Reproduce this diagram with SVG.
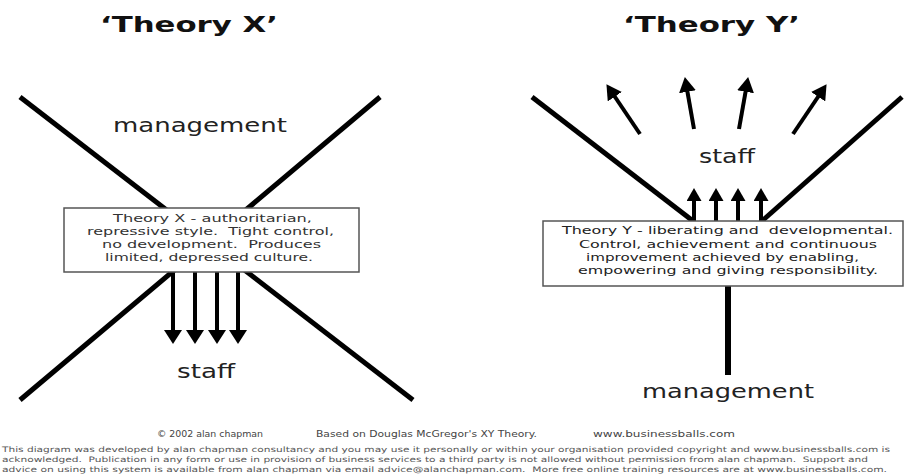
<svg xmlns="http://www.w3.org/2000/svg" width="905" height="474" viewBox="0 0 905 474">
<style>
.title{font-family:"DejaVu Sans",Verdana,sans-serif;font-weight:bold;font-size:22px;fill:#111}
.lbl{font-family:"DejaVu Sans",Verdana,sans-serif;font-size:20px;fill:#222}
.box{fill:#fff;stroke:#555;stroke-width:1.5}
.bt{font-family:"DejaVu Sans",Verdana,sans-serif;font-size:11px;fill:#333;white-space:pre}
.ln{stroke:#000;stroke-width:5;fill:none;stroke-linecap:butt}
.ar{stroke:#000;stroke-width:4;fill:none}
.ft{font-family:"DejaVu Sans",Verdana,sans-serif;font-size:8.5px;fill:#444}
.fs{font-family:"DejaVu Sans",Verdana,sans-serif;font-size:7.5px;fill:#555;white-space:pre}
</style>
<defs>
<marker id="ahX" viewBox="0 0 14 18" refX="2" refY="9" markerWidth="14" markerHeight="18" orient="auto" markerUnits="userSpaceOnUse"><path d="M0,0 L14,9 L0,18 z" fill="#000"/></marker>
<marker id="ahY" viewBox="0 0 13 15" refX="2" refY="7.5" markerWidth="13" markerHeight="15" orient="auto" markerUnits="userSpaceOnUse"><path d="M0,0 L13,7.5 L0,15 z" fill="#000"/></marker>
<marker id="ahF" viewBox="0 0 15 17" refX="2" refY="8.5" markerWidth="15" markerHeight="17" orient="auto" markerUnits="userSpaceOnUse"><path d="M0,0 L15,8.5 L0,17 z" fill="#000"/></marker>
</defs>
<rect width="905" height="474" fill="#fff"/>

<g id="titleX"><text class="title" x="100" y="32" textLength="178" lengthAdjust="spacingAndGlyphs">‘Theory X’</text></g>
<g id="titleY"><text class="title" x="623" y="32" textLength="177" lengthAdjust="spacingAndGlyphs">‘Theory Y’</text></g>

<g id="connectors">
<line class="ln" x1="20" y1="97" x2="413" y2="400"/>
<line class="ln" x1="380" y1="97" x2="20" y2="400"/>
<line class="ar" x1="173" y1="272" x2="173" y2="332" marker-end="url(#ahX)"/>
<line class="ar" x1="195" y1="272" x2="195" y2="332" marker-end="url(#ahX)"/>
<line class="ar" x1="217" y1="272" x2="217" y2="332" marker-end="url(#ahX)"/>
<line class="ar" x1="238" y1="272" x2="238" y2="332" marker-end="url(#ahX)"/>

<line class="ln" x1="532" y1="97" x2="693" y2="221"/>
<line class="ln" x1="902" y1="97" x2="762" y2="221"/>
<line class="ar" x1="694" y1="221" x2="694" y2="199" marker-end="url(#ahY)"/>
<line class="ar" x1="716" y1="221" x2="716" y2="199" marker-end="url(#ahY)"/>
<line class="ar" x1="738" y1="221" x2="738" y2="199" marker-end="url(#ahY)"/>
<line class="ar" x1="761" y1="221" x2="761" y2="199" marker-end="url(#ahY)"/>
<line class="ar" x1="640" y1="134" x2="613.7" y2="95" marker-end="url(#ahF)"/>
<line class="ar" x1="694" y1="129" x2="687.1" y2="89.8" marker-end="url(#ahF)"/>
<line class="ar" x1="739" y1="129" x2="745.9" y2="89.8" marker-end="url(#ahF)"/>
<line class="ar" x1="793" y1="134" x2="819.3" y2="95" marker-end="url(#ahF)"/>
<line x1="728" y1="286" x2="728" y2="375" stroke="#000" stroke-width="6"/>
</g>

<g id="mgmtX"><text class="lbl" x="113" y="132" textLength="174" lengthAdjust="spacingAndGlyphs">management</text></g>
<g id="boxX">
<rect class="box" x="64" y="208" width="295" height="64"/>
<text class="bt" x="113" y="222" textLength="199" lengthAdjust="spacingAndGlyphs">Theory X - authoritarian,</text>
<text class="bt" x="87" y="235" textLength="247" lengthAdjust="spacingAndGlyphs">repressive style.  Tight control,</text>
<text class="bt" x="102" y="248" textLength="219" lengthAdjust="spacingAndGlyphs">no development.  Produces</text>
<text class="bt" x="105" y="261" textLength="208" lengthAdjust="spacingAndGlyphs">limited, depressed culture.</text>
</g>
<g id="staffX"><text class="lbl" x="177" y="378" textLength="58" lengthAdjust="spacingAndGlyphs">staff</text></g>

<g id="staffY"><text class="lbl" x="699" y="163" textLength="56" lengthAdjust="spacingAndGlyphs">staff</text></g>
<g id="boxY">
<rect class="box" x="543" y="221" width="360" height="65"/>
<text class="bt" x="562" y="234" textLength="331" lengthAdjust="spacingAndGlyphs" style="fill:#222">Theory Y - liberating and  developmental.</text>
<text class="bt" x="579" y="248" textLength="298" lengthAdjust="spacingAndGlyphs" style="fill:#222">Control, achievement and continuous</text>
<text class="bt" x="586" y="261" textLength="273" lengthAdjust="spacingAndGlyphs" style="fill:#222">improvement achieved by enabling,</text>
<text class="bt" x="578" y="274" textLength="300" lengthAdjust="spacingAndGlyphs" style="fill:#222">empowering and giving responsibility.</text>
</g>
<g id="mgmtY"><text class="lbl" x="642" y="398" textLength="172" lengthAdjust="spacingAndGlyphs">management</text></g>

<g id="footer">
<text class="ft" x="157" y="437" textLength="106" lengthAdjust="spacingAndGlyphs">© 2002 alan chapman</text>
<text class="ft" x="316" y="437" textLength="221" lengthAdjust="spacingAndGlyphs">Based on Douglas McGregor's XY Theory.</text>
<text class="ft" x="593" y="437" textLength="142" lengthAdjust="spacingAndGlyphs">www.businessballs.com</text>
<text class="fs" x="2" y="452" textLength="888" lengthAdjust="spacingAndGlyphs">This diagram was developed by alan chapman consultancy and you may use it personally or within your organisation provided copyright and www.businessballs.com is</text>
<text class="fs" x="2" y="462" textLength="866" lengthAdjust="spacingAndGlyphs">acknowledged.  Publication in any form or use in provision of business services to a third party is not allowed without permission from alan chapman.  Support and</text>
<text class="fs" x="2" y="472" textLength="885" lengthAdjust="spacingAndGlyphs">advice on using this system is available from alan chapman via email advice@alanchapman.com.  More free online training resources are at www.businessballs.com.</text>
</g>
</svg>
